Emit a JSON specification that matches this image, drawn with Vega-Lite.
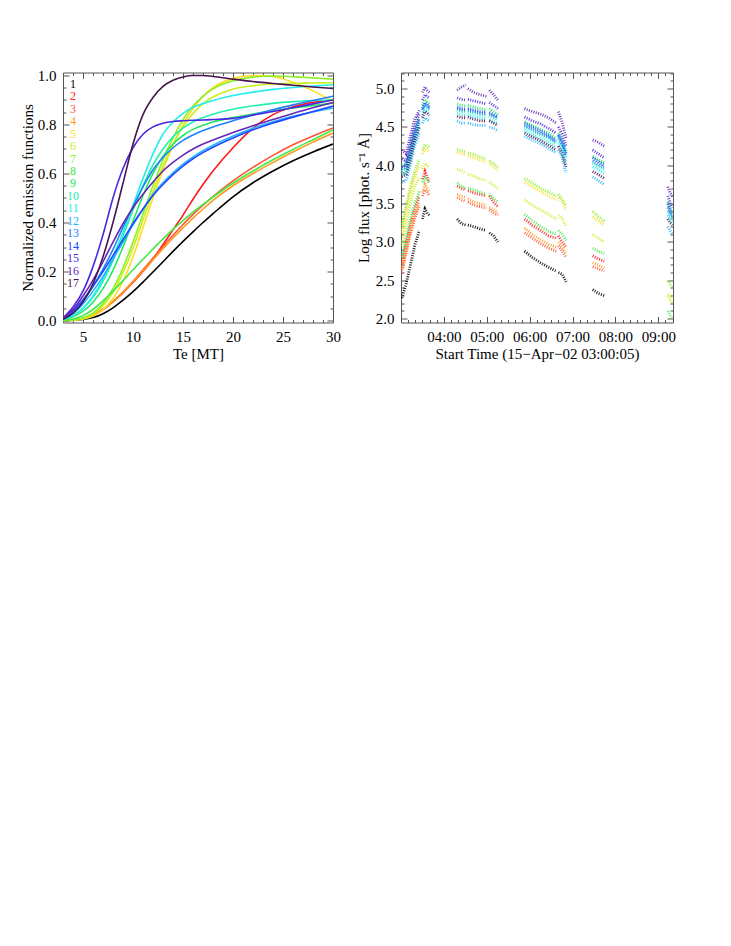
{
"$schema":"https://vega.github.io/schema/vega-lite/v6.json",
"background":"white",
"padding":{"left":19,"top":67.5,"right":5,"bottom":5},
"autosize":{"type":"pad"},
"config":{
 "font":"Liberation Serif",
 "view":{"stroke":"#555","strokeWidth":1},
 "axis":{"domain":false,"grid":false,"tickColor":"#555","tickWidth":1,"labelFont":"Liberation Serif","labelFontSize":15,"labelColor":"#000","titleFont":"Liberation Serif","titleFontSize":15,"titleFontWeight":"normal","titleColor":"#000","labelFlush":false,"labelOverlap":false}
},
"datasets":{
 "seg":[
  {"g":"A","t":[3.02,3.12,3.22,3.32,3.43]},
  {"g":"P","t":[3.5,3.56,3.61,3.66]},
  {"g":"B","t":[4.31,4.41,4.51]},
  {"g":"C","t":[4.56,4.7,4.85,4.99]},
  {"g":"D","t":[5.06,5.16,5.26]},
  {"g":"E","t":[5.88,6.06,6.25,6.44,6.62]},
  {"g":"F","t":[6.67,6.76,6.85]},
  {"g":"G","t":[7.47,7.6,7.74]},
  {"g":"H","t":[9.22,9.27,9.33]}
 ]
},
"spacing":68,
"bounds":"flush",
"resolve":{"scale":{"color":"shared"},"legend":{"color":"independent"}},
"hconcat":[
{
 "width":270,"height":250,
 "data":{"values":[
  {"s":"1","te":[3,4,5,6,7,8,9,10,11,12,13,14,15,16,17,18,20,22,24,26,28,30],"v":[0,0.001,0.004,0.012,0.028,0.052,0.083,0.118,0.157,0.198,0.24,0.282,0.323,0.362,0.4,0.436,0.505,0.562,0.61,0.652,0.688,0.72]},
  {"s":"2","te":[3,4,5,6,7,8,9,10,11,12,13,14,15,16,17,18,20,22,24,26,28,30],"v":[0,0.002,0.008,0.022,0.046,0.077,0.113,0.155,0.2,0.25,0.31,0.37,0.43,0.495,0.555,0.61,0.705,0.785,0.84,0.872,0.89,0.9]},
  {"s":"3","te":[3,4,5,6,7,8,9,10,11,12,13,14,15,16,17,18,20,22,24,26,28,30],"v":[0,0.002,0.009,0.022,0.045,0.077,0.116,0.16,0.207,0.255,0.302,0.348,0.392,0.433,0.471,0.506,0.57,0.625,0.674,0.717,0.753,0.786]},
  {"s":"4","te":[3,4,5,6,7,8,9,10,11,12,13,14,15,16,17,18,20,22,24,26,28,30],"v":[0,0.002,0.008,0.021,0.044,0.076,0.115,0.158,0.202,0.248,0.293,0.337,0.378,0.418,0.455,0.49,0.55,0.6,0.645,0.688,0.728,0.765]},
  {"s":"5","te":[3,4,5,6,7,8,9,10,11,12,13,14,15,16,17,18,20,22,24,26,28,30],"v":[0,0.001,0.005,0.018,0.045,0.09,0.16,0.26,0.38,0.5,0.615,0.715,0.8,0.865,0.915,0.95,0.988,1.0,0.996,0.972,0.937,0.895]},
  {"s":"6","te":[3,4,5,6,7,8,9,10,11,12,13,14,15,16,17,18,20,22,24,26,28,30],"v":[0,0.002,0.008,0.025,0.06,0.115,0.195,0.295,0.41,0.525,0.63,0.72,0.79,0.845,0.885,0.912,0.944,0.958,0.965,0.968,0.969,0.97]},
  {"s":"7","te":[3,4,5,6,7,8,9,10,11,12,13,14,15,16,17,18,20,22,24,26,28,30],"v":[0,0.002,0.01,0.03,0.07,0.13,0.215,0.32,0.435,0.55,0.655,0.745,0.82,0.875,0.915,0.945,0.978,0.993,0.998,0.995,0.99,0.985]},
  {"s":"8","te":[3,4,5,6,7,8,9,10,11,12,13,14,15,16,17,18,20,22,24,26,28,30],"v":[0,0.006,0.02,0.045,0.08,0.12,0.163,0.207,0.25,0.292,0.333,0.372,0.408,0.442,0.474,0.504,0.56,0.61,0.656,0.698,0.738,0.778]},
  {"s":"9","te":[3,4,5,6,7,8,9,10,11,12,13,14,15,16,17,18,20,22,24,26,28,30],"v":[0.003,0.015,0.038,0.075,0.13,0.205,0.3,0.405,0.51,0.6,0.67,0.72,0.755,0.78,0.797,0.81,0.828,0.843,0.856,0.867,0.877,0.887]},
  {"s":"10","te":[3,4,5,6,7,8,9,10,11,12,13,14,15,16,17,18,20,22,24,26,28,30],"v":[0.004,0.02,0.05,0.095,0.16,0.245,0.345,0.45,0.55,0.635,0.7,0.75,0.785,0.81,0.828,0.842,0.862,0.876,0.886,0.893,0.898,0.9]},
  {"s":"11","te":[3,4,5,6,7,8,9,10,11,12,13,14,15,16,17,18,20,22,24,26,28,30],"v":[0.004,0.02,0.05,0.1,0.17,0.26,0.36,0.47,0.58,0.68,0.76,0.81,0.845,0.87,0.885,0.898,0.918,0.932,0.943,0.951,0.957,0.962]},
  {"s":"12","te":[3,4,5,6,7,8,9,10,11,12,13,14,15,16,17,18,20,22,24,26,28,30],"v":[0.005,0.028,0.068,0.12,0.18,0.25,0.32,0.39,0.455,0.515,0.563,0.603,0.638,0.668,0.693,0.715,0.753,0.785,0.811,0.833,0.851,0.866]},
  {"s":"13","te":[3,4,5,6,7,8,9,10,11,12,13,14,15,16,17,18,20,22,24,26,28,30],"v":[0.006,0.035,0.08,0.14,0.21,0.29,0.38,0.465,0.545,0.615,0.665,0.705,0.735,0.757,0.775,0.79,0.815,0.839,0.86,0.88,0.898,0.915]},
  {"s":"14","te":[3,4,5,6,7,8,9,10,11,12,13,14,15,16,17,18,20,22,24,26,28,30],"v":[0.008,0.04,0.085,0.14,0.2,0.265,0.33,0.395,0.455,0.51,0.555,0.595,0.63,0.66,0.685,0.707,0.745,0.778,0.806,0.83,0.853,0.875]},
  {"s":"15","te":[3,4,5,6,7,8,9,10,11,12,13,14,15,16,17,18,20,22,24,26,28,30],"v":[0.01,0.055,0.12,0.22,0.35,0.5,0.62,0.705,0.76,0.79,0.805,0.812,0.815,0.817,0.818,0.82,0.825,0.838,0.853,0.868,0.884,0.9]},
  {"s":"16","te":[3,4,5,6,7,8,9,10,11,12,13,14,15,16,17,18,20,22,24,26,28,30],"v":[0.01,0.045,0.1,0.165,0.24,0.32,0.395,0.46,0.515,0.565,0.61,0.645,0.675,0.7,0.72,0.737,0.767,0.795,0.82,0.845,0.868,0.89]},
  {"s":"17","te":[3,4,5,6,7,8,9,10,11,12,13,14,15,16,17,18,20,22,24,26,28,30],"v":[0.005,0.03,0.075,0.15,0.26,0.4,0.56,0.72,0.84,0.91,0.955,0.98,0.994,1.0,1.0,0.996,0.985,0.975,0.967,0.96,0.953,0.947]}
 ]},
 "transform":[{"flatten":["te","v"]}],
 "layer":[
  {"mark":{"type":"line","strokeWidth":1.6,"interpolate":"monotone","clip":true},
   "encoding":{
    "x":{"field":"te","type":"quantitative","scale":{"domain":[3,30],"nice":false,"zero":false},"axis":{"orient":"bottom","values":[5,10,15,20,25,30],"ticks":false,"labelPadding":7,"title":"Te [MT]","titlePadding":2}},
    "y":{"field":"v","type":"quantitative","scale":{"domain":[-0.008,1.012],"nice":false,"zero":false},"axis":{"orient":"left","values":[0,0.2,0.4,0.6,0.8,1],"format":".1f","ticks":false,"labelPadding":7,"title":"Normalized emission functions","titlePadding":2}},
    "color":{"field":"s","type":"nominal","scale":{"domain":["1","2","3","4","5","6","7","8","9","10","11","12","13","14","15","16","17"],"range":["#000000","#ff1a1a","#ff5533","#ff9922","#ffdd22","#c8f020","#8cf020","#44e844","#22e860","#22f0b0","#22eeee","#22b4ff","#2280ff","#2248ff","#4a28e0","#6428b4","#4a1450"]},
     "legend":{"orient":"none","legendX":-2,"legendY":5.3,"direction":"vertical","title":null,"labelFont":"Liberation Serif","labelFontSize":12,"symbolSize":0,"symbolOpacity":0,"symbolStrokeWidth":0,"labelOffset":0,"rowPadding":0.45,"padding":0,"labelAlign":"center","encode":{"labels":{"update":{"fill":{"scale":"color","field":"value"}}}}}}
   }},
  {"mark":{"type":"point","opacity":0},
   "encoding":{
    "x":{"field":"te","type":"quantitative","scale":{"domain":[3,30],"nice":false,"zero":false},"axis":{"orient":"bottom","values":[5,10,15,20,25,30],"labels":false,"tickSize":-6,"title":null}},
    "y":{"field":"v","type":"quantitative","scale":{"domain":[-0.008,1.012],"nice":false,"zero":false},"axis":{"orient":"left","values":[0,0.2,0.4,0.6,0.8,1],"labels":false,"tickSize":-6,"title":null}}
   }},
  {"mark":{"type":"point","opacity":0},
   "encoding":{
    "x":{"field":"te","type":"quantitative","scale":{"domain":[3,30],"nice":false,"zero":false},"axis":{"orient":"bottom","values":[3,4,6,7,8,9,11,12,13,14,16,17,18,19,21,22,23,24,26,27,28,29],"labels":false,"tickSize":-3,"title":null}},
    "y":{"field":"v","type":"quantitative","scale":{"domain":[-0.008,1.012],"nice":false,"zero":false},"axis":{"orient":"left","values":[0.05,0.1,0.15,0.25,0.3,0.35,0.45,0.5,0.55,0.65,0.7,0.75,0.85,0.9,0.95],"labels":false,"tickSize":-3,"title":null}}
   }},
  {"mark":{"type":"point","opacity":0},
   "encoding":{
    "x":{"field":"te","type":"quantitative","scale":{"domain":[3,30],"nice":false,"zero":false},"axis":{"orient":"top","values":[5,10,15,20,25,30],"labels":false,"tickSize":-6,"title":null}},
    "y":{"field":"v","type":"quantitative","scale":{"domain":[-0.008,1.012],"nice":false,"zero":false},"axis":{"orient":"right","values":[0,0.2,0.4,0.6,0.8,1],"labels":false,"tickSize":-6,"title":null}}
   }},
  {"mark":{"type":"point","opacity":0},
   "encoding":{
    "x":{"field":"te","type":"quantitative","scale":{"domain":[3,30],"nice":false,"zero":false},"axis":{"orient":"top","values":[3,4,6,7,8,9,11,12,13,14,16,17,18,19,21,22,23,24,26,27,28,29],"labels":false,"tickSize":-3,"title":null}},
    "y":{"field":"v","type":"quantitative","scale":{"domain":[-0.008,1.012],"nice":false,"zero":false},"axis":{"orient":"right","values":[0.05,0.1,0.15,0.25,0.3,0.35,0.45,0.5,0.55,0.65,0.7,0.75,0.85,0.9,0.95],"labels":false,"tickSize":-3,"title":null}}
   }}
 ],
 "resolve":{"axis":{"x":"independent","y":"independent"}}
},
{
 "width":272,"height":250,
 "data":{"values":[
  {"s":"1","g":"A","v":[2.27,2.45,2.7,2.95,3.15]},{"s":"1","g":"P","v":[3.3,3.43,3.38,3.35]},{"s":"1","g":"B","v":[3.3,3.24,3.22]},{"s":"1","g":"C","v":[3.22,3.2,3.17,3.15]},{"s":"1","g":"D","v":[3.12,3.08,3.0]},{"s":"1","g":"E","v":[2.88,2.8,2.73,2.67,2.62]},{"s":"1","g":"F","v":[2.6,2.58,2.48]},{"s":"1","g":"G","v":[2.38,2.33,2.3]},
  {"s":"2","g":"A","v":[2.72,2.98,3.22,3.42,3.6]},{"s":"2","g":"P","v":[3.82,3.92,3.85,3.78]},{"s":"2","g":"B","v":[3.73,3.7,3.68]},{"s":"2","g":"C","v":[3.67,3.64,3.62,3.6]},{"s":"2","g":"D","v":[3.6,3.52,3.46]},{"s":"2","g":"E","v":[3.3,3.22,3.15,3.08,3.05]},{"s":"2","g":"F","v":[3.08,3.0,2.93]},{"s":"2","g":"G","v":[2.82,2.78,2.75]},
  {"s":"3","g":"A","v":[2.6,2.85,3.1,3.3,3.48]},{"s":"3","g":"P","v":[3.6,3.68,3.65,3.6]},{"s":"3","g":"B","v":[3.58,3.55,3.53]},{"s":"3","g":"C","v":[3.52,3.48,3.46,3.44]},{"s":"3","g":"D","v":[3.42,3.38,3.35]},{"s":"3","g":"E","v":[3.12,3.05,2.98,2.92,2.88]},{"s":"3","g":"F","v":[2.95,2.88,2.8]},{"s":"3","g":"G","v":[2.68,2.65,2.62]},
  {"s":"4","g":"A","v":[2.65,2.9,3.15,3.35,3.52]},{"s":"4","g":"P","v":[3.65,3.75,3.7,3.65]},{"s":"4","g":"B","v":[3.62,3.6,3.58]},{"s":"4","g":"C","v":[3.56,3.52,3.5,3.48]},{"s":"4","g":"D","v":[3.45,3.42,3.38]},{"s":"4","g":"E","v":[3.18,3.1,3.03,2.97,2.93]},{"s":"4","g":"F","v":[3.0,2.93,2.85]},{"s":"4","g":"G","v":[2.73,2.7,2.66]},
  {"s":"5","g":"A","v":[3.12,3.4,3.65,3.85,4.0]},{"s":"5","g":"P","v":[4.15,4.22,4.2,4.18]},{"s":"5","g":"B","v":[4.17,4.15,4.13]},{"s":"5","g":"C","v":[4.12,4.1,4.07,4.04]},{"s":"5","g":"D","v":[4.02,3.98,3.94]},{"s":"5","g":"E","v":[3.78,3.72,3.66,3.6,3.55]},{"s":"5","g":"F","v":[3.58,3.52,3.42]},{"s":"5","g":"G","v":[3.33,3.28,3.22]},{"s":"5","g":"H","v":[2.32,2.3,2.28]},
  {"s":"6","g":"A","v":[2.95,3.25,3.5,3.72,3.85]},{"s":"6","g":"P","v":[3.95,4.02,4.0,3.97]},{"s":"6","g":"B","v":[3.95,3.93,3.9]},{"s":"6","g":"C","v":[3.88,3.86,3.82,3.8]},{"s":"6","g":"D","v":[3.78,3.74,3.7]},{"s":"6","g":"E","v":[3.55,3.48,3.42,3.36,3.3]},{"s":"6","g":"F","v":[3.35,3.3,3.2]},{"s":"6","g":"G","v":[3.1,3.05,3.0]},{"s":"6","g":"H","v":[2.3,2.25,2.2]},
  {"s":"7","g":"A","v":[3.2,3.48,3.72,3.92,4.08]},{"s":"7","g":"P","v":[4.2,4.27,4.25,4.23]},{"s":"7","g":"B","v":[4.21,4.19,4.17]},{"s":"7","g":"C","v":[4.16,4.14,4.11,4.08]},{"s":"7","g":"D","v":[4.06,4.02,3.98]},{"s":"7","g":"E","v":[3.83,3.77,3.7,3.65,3.6]},{"s":"7","g":"F","v":[3.62,3.56,3.47]},{"s":"7","g":"G","v":[3.4,3.33,3.27]},{"s":"7","g":"H","v":[2.5,2.45,2.4]},
  {"s":"8","g":"A","v":[2.8,3.05,3.3,3.5,3.66]},{"s":"8","g":"P","v":[3.78,3.84,3.8,3.78]},{"s":"8","g":"B","v":[3.77,3.73,3.7]},{"s":"8","g":"C","v":[3.7,3.68,3.65,3.62]},{"s":"8","g":"D","v":[3.62,3.57,3.52]},{"s":"8","g":"E","v":[3.36,3.28,3.2,3.14,3.1]},{"s":"8","g":"F","v":[3.15,3.1,3.02]},{"s":"8","g":"G","v":[2.92,2.88,2.85]},{"s":"8","g":"H","v":[2.1,2.05,2.0]},
  {"s":"9","g":"A","v":[4.0,4.02,4.22,4.45,4.62]},{"s":"9","g":"P","v":[4.78,4.86,4.83,4.8]},{"s":"9","g":"B","v":[4.8,4.78,4.77]},{"s":"9","g":"C","v":[4.78,4.76,4.74,4.72]},{"s":"9","g":"D","v":[4.74,4.7,4.66]},{"s":"9","g":"E","v":[4.57,4.52,4.47,4.42,4.35]},{"s":"9","g":"F","v":[4.42,4.32,4.18]},{"s":"9","g":"G","v":[4.12,4.07,4.03]},{"s":"9","g":"H","v":[3.52,3.45,3.38]},
  {"s":"10","g":"A","v":[3.92,3.95,4.15,4.38,4.55]},{"s":"10","g":"P","v":[4.7,4.78,4.75,4.72]},{"s":"10","g":"B","v":[4.72,4.7,4.7]},{"s":"10","g":"C","v":[4.7,4.68,4.66,4.65]},{"s":"10","g":"D","v":[4.65,4.62,4.6]},{"s":"10","g":"E","v":[4.5,4.45,4.4,4.35,4.28]},{"s":"10","g":"F","v":[4.35,4.25,4.1]},{"s":"10","g":"G","v":[4.03,3.98,3.95]},{"s":"10","g":"H","v":[3.4,3.35,3.3]},
  {"s":"11","g":"A","v":[3.88,3.9,4.1,4.33,4.5]},{"s":"11","g":"P","v":[4.65,4.72,4.7,4.67]},{"s":"11","g":"B","v":[4.68,4.66,4.65]},{"s":"11","g":"C","v":[4.66,4.63,4.62,4.6]},{"s":"11","g":"D","v":[4.6,4.57,4.55]},{"s":"11","g":"E","v":[4.46,4.4,4.35,4.3,4.24]},{"s":"11","g":"F","v":[4.3,4.2,4.05]},{"s":"11","g":"G","v":[3.98,3.94,3.9]},{"s":"11","g":"H","v":[3.35,3.3,3.25]},
  {"s":"12","g":"A","v":[3.78,3.8,4.0,4.25,4.42]},{"s":"12","g":"P","v":[4.55,4.62,4.6,4.57]},{"s":"12","g":"B","v":[4.58,4.55,4.55]},{"s":"12","g":"C","v":[4.55,4.53,4.52,4.52]},{"s":"12","g":"D","v":[4.5,4.48,4.45]},{"s":"12","g":"E","v":[4.38,4.33,4.28,4.22,4.16]},{"s":"12","g":"F","v":[4.2,4.1,3.9]},{"s":"12","g":"G","v":[3.85,3.8,3.75]},{"s":"12","g":"H","v":[3.2,3.15,3.1]},
  {"s":"13","g":"A","v":[3.95,3.97,4.17,4.4,4.57]},{"s":"13","g":"P","v":[4.72,4.8,4.77,4.74]},{"s":"13","g":"B","v":[4.74,4.72,4.72]},{"s":"13","g":"C","v":[4.72,4.7,4.68,4.67]},{"s":"13","g":"D","v":[4.67,4.64,4.62]},{"s":"13","g":"E","v":[4.52,4.47,4.42,4.37,4.3]},{"s":"13","g":"F","v":[4.38,4.27,4.12]},{"s":"13","g":"G","v":[4.06,4.01,3.97]},{"s":"13","g":"H","v":[3.45,3.38,3.32]},
  {"s":"14","g":"A","v":[3.98,4.0,4.2,4.42,4.6]},{"s":"14","g":"P","v":[4.74,4.82,4.8,4.76]},{"s":"14","g":"B","v":[4.76,4.74,4.73]},{"s":"14","g":"C","v":[4.74,4.72,4.7,4.69]},{"s":"14","g":"D","v":[4.69,4.66,4.63]},{"s":"14","g":"E","v":[4.55,4.5,4.45,4.39,4.32]},{"s":"14","g":"F","v":[4.4,4.3,4.15]},{"s":"14","g":"G","v":[4.1,4.05,4.0]},{"s":"14","g":"H","v":[3.5,3.42,3.35]},
  {"s":"15","g":"A","v":[4.08,4.05,4.28,4.5,4.68]},{"s":"15","g":"P","v":[4.85,4.92,4.9,4.87]},{"s":"15","g":"B","v":[4.88,4.86,4.85]},{"s":"15","g":"C","v":[4.86,4.84,4.82,4.8]},{"s":"15","g":"D","v":[4.82,4.78,4.74]},{"s":"15","g":"E","v":[4.63,4.58,4.54,4.48,4.42]},{"s":"15","g":"F","v":[4.5,4.4,4.25]},{"s":"15","g":"G","v":[4.2,4.15,4.1]},{"s":"15","g":"H","v":[3.6,3.52,3.45]},
  {"s":"16","g":"A","v":[4.2,4.15,4.38,4.6,4.72]},{"s":"16","g":"P","v":[4.95,5.02,4.98,4.95]},{"s":"16","g":"B","v":[4.98,5.02,5.05]},{"s":"16","g":"C","v":[5.0,4.95,4.92,4.9]},{"s":"16","g":"D","v":[4.98,4.92,4.85]},{"s":"16","g":"E","v":[4.74,4.7,4.67,4.62,4.55]},{"s":"16","g":"F","v":[4.7,4.55,4.35]},{"s":"16","g":"G","v":[4.33,4.3,4.25]},{"s":"16","g":"H","v":[3.72,3.65,3.6]},
  {"s":"17","g":"A","v":[3.85,3.88,4.08,4.32,4.5]},{"s":"17","g":"P","v":[4.62,4.7,4.68,4.65]},{"s":"17","g":"B","v":[4.64,4.62,4.62]},{"s":"17","g":"C","v":[4.63,4.6,4.58,4.58]},{"s":"17","g":"D","v":[4.58,4.55,4.52]},{"s":"17","g":"E","v":[4.42,4.37,4.32,4.26,4.2]},{"s":"17","g":"F","v":[4.25,4.15,3.98]},{"s":"17","g":"G","v":[3.92,3.88,3.83]},{"s":"17","g":"H","v":[3.3,3.25,3.22]}
 ]},
 "transform":[{"lookup":"g","from":{"data":{"name":"seg"},"key":"g","fields":["t"]}},{"flatten":["t","v"]}],
 "layer":[
  {"mark":{"type":"line","strokeWidth":2.8,"strokeDash":[1,1.4],"opacity":0.9,"clip":true},
   "encoding":{
    "x":{"field":"t","type":"quantitative","scale":{"domain":[3.0014,9.342],"nice":false,"zero":false},"axis":{"orient":"bottom","values":[4,5,6,7,8,9],"labelExpr":"'0' + datum.value + ':00'","ticks":false,"labelPadding":7,"title":"Start Time (15−Apr−02 03:00:05)","titlePadding":2}},
    "y":{"field":"v","type":"quantitative","scale":{"domain":[1.95,5.21],"nice":false,"zero":false},"axis":{"orient":"left","values":[2,2.5,3,3.5,4,4.5,5],"format":".1f","ticks":false,"labelPadding":7,"title":"Log flux [phot. s⁻¹ Å]","titlePadding":4}},
    "color":{"field":"s","type":"nominal","scale":{"domain":["1","2","3","4","5","6","7","8","9","10","11","12","13","14","15","16","17"],"range":["#000000","#ff1a1a","#ff5533","#ff9922","#ffdd22","#c8f020","#8cf020","#44e844","#22e860","#22f0b0","#22eeee","#22b4ff","#2280ff","#2248ff","#4a28e0","#6428b4","#4a1450"]},"legend":null},
    "detail":{"field":"g","type":"nominal"}
   }},
  {"mark":{"type":"point","opacity":0},
   "encoding":{
    "x":{"field":"t","type":"quantitative","scale":{"domain":[3.0014,9.342],"nice":false,"zero":false},"axis":{"orient":"bottom","values":[4,5,6,7,8,9],"labels":false,"tickSize":-6,"title":null}},
    "y":{"field":"v","type":"quantitative","scale":{"domain":[1.95,5.21],"nice":false,"zero":false},"axis":{"orient":"left","values":[2,2.5,3,3.5,4,4.5,5],"labels":false,"tickSize":-6,"title":null}}
   }},
  {"mark":{"type":"point","opacity":0},
   "encoding":{
    "x":{"field":"t","type":"quantitative","scale":{"domain":[3.0014,9.342],"nice":false,"zero":false},"axis":{"orient":"bottom","values":[3.16667,3.33333,3.5,3.66667,3.83333,4.16667,4.33333,4.5,4.66667,4.83333,5.16667,5.33333,5.5,5.66667,5.83333,6.16667,6.33333,6.5,6.66667,6.83333,7.16667,7.33333,7.5,7.66667,7.83333,8.16667,8.33333,8.5,8.66667,8.83333,9.16667,9.33333],"labels":false,"tickSize":-3,"title":null}},
    "y":{"field":"v","type":"quantitative","scale":{"domain":[1.95,5.21],"nice":false,"zero":false},"axis":{"orient":"left","values":[2.1,2.2,2.3,2.4,2.6,2.7,2.8,2.9,3.1,3.2,3.3,3.4,3.6,3.7,3.8,3.9,4.1,4.2,4.3,4.4,4.6,4.7,4.8,4.9,5.1,5.2],"labels":false,"tickSize":-3,"title":null}}
   }},
  {"mark":{"type":"point","opacity":0},
   "encoding":{
    "x":{"field":"t","type":"quantitative","scale":{"domain":[3.0014,9.342],"nice":false,"zero":false},"axis":{"orient":"top","values":[4,5,6,7,8,9],"labels":false,"tickSize":-6,"title":null}},
    "y":{"field":"v","type":"quantitative","scale":{"domain":[1.95,5.21],"nice":false,"zero":false},"axis":{"orient":"right","values":[2,2.5,3,3.5,4,4.5,5],"labels":false,"tickSize":-6,"title":null}}
   }},
  {"mark":{"type":"point","opacity":0},
   "encoding":{
    "x":{"field":"t","type":"quantitative","scale":{"domain":[3.0014,9.342],"nice":false,"zero":false},"axis":{"orient":"top","values":[3.16667,3.33333,3.5,3.66667,3.83333,4.16667,4.33333,4.5,4.66667,4.83333,5.16667,5.33333,5.5,5.66667,5.83333,6.16667,6.33333,6.5,6.66667,6.83333,7.16667,7.33333,7.5,7.66667,7.83333,8.16667,8.33333,8.5,8.66667,8.83333,9.16667,9.33333],"labels":false,"tickSize":-3,"title":null}},
    "y":{"field":"v","type":"quantitative","scale":{"domain":[1.95,5.21],"nice":false,"zero":false},"axis":{"orient":"right","values":[2.1,2.2,2.3,2.4,2.6,2.7,2.8,2.9,3.1,3.2,3.3,3.4,3.6,3.7,3.8,3.9,4.1,4.2,4.3,4.4,4.6,4.7,4.8,4.9,5.1,5.2],"labels":false,"tickSize":-3,"title":null}}
   }}
 ],
 "resolve":{"axis":{"x":"independent","y":"independent"}}
}
]
}
